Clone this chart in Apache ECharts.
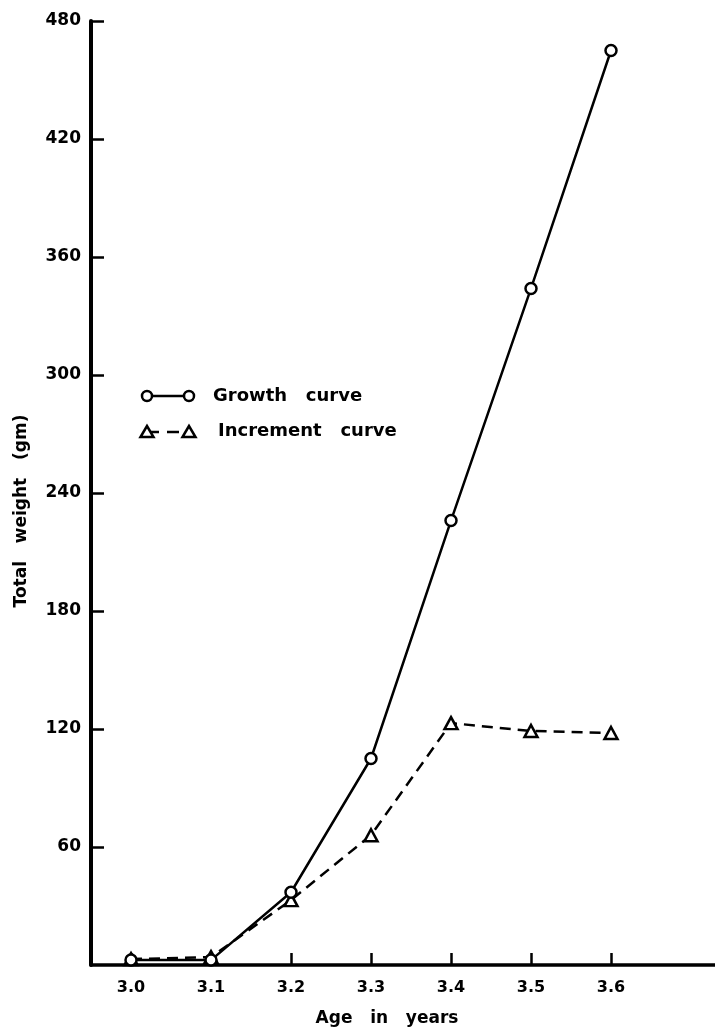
<!DOCTYPE html>
<html><head><meta charset="utf-8">
<script src="https://cdn.jsdelivr.net/npm/echarts@6/dist/echarts.min.js"></script>
<style>html,body{margin:0;padding:0;background:#fff}#c{width:715px;height:1032px}</style>
</head><body><div id="c"></div>
<script>
const ages = [3.0, 3.1, 3.2, 3.3, 3.4, 3.5, 3.6];
const growth = [2.5, 2.5, 37, 105, 226, 344, 465];
const increment = [3, 4, 33, 66, 123, 119, 118];
const xTicks = [3.0, 3.1, 3.2, 3.3, 3.4, 3.5, 3.6];
const yTicks = [60, 120, 180, 240, 300, 360, 420, 480];
const seriesNames = ['Growth curve', 'Increment curve'];
const xName = 'Age   in   years';
const yName = 'Total   weight   (gm)';

const font = 'DejaVu Sans';
const chart = echarts.init(document.getElementById('c'), null, {renderer: 'canvas'});
chart.setOption({
  backgroundColor: '#fff',
  animation: false,
  grid: {left: 91, top: 21, right: 0, bottom: 65, containLabel: false},
  xAxis: {
    type: 'value', min: 2.95, max: 3.73,
    name: xName, nameLocation: 'middle', nameGap: 45,
    nameTextStyle: {fontFamily: font, fontWeight: 'bold', fontSize: 17, color: '#000', padding: [0, 32, 0, 0]},
    axisLine: {lineStyle: {color: '#000', width: 3.5}},
    axisTick: {inside: true, length: 12, lineStyle: {color: '#000', width: 2.5}, customValues: xTicks},
    axisLabel: {customValues: xTicks, formatter: v => v.toFixed(1), fontFamily: font, fontWeight: 'bold', fontSize: 16, color: '#000', margin: 15},
    splitLine: {show: false}
  },
  yAxis: {
    type: 'value', min: 0, max: 480, interval: 60,
    axisLine: {lineStyle: {color: '#000', width: 4}},
    axisTick: {inside: true, length: 13, lineStyle: {color: '#000', width: 2.5}, customValues: yTicks},
    axisLabel: {customValues: yTicks, fontFamily: font, fontWeight: 'bold', fontSize: 17, color: '#000', margin: 10},
    splitLine: {show: false}
  },
  series: [
    {
      name: seriesNames[0], type: 'line',
      data: ages.map((a, i) => [a, growth[i]]),
      symbol: 'circle', symbolSize: 11,
      lineStyle: {color: '#000', width: 2.5},
      itemStyle: {color: '#fff', borderColor: '#000', borderWidth: 2.5},
      z: 3
    },
    {
      name: seriesNames[1], type: 'line',
      data: ages.map((a, i) => [a, increment[i]]),
      symbol: 'triangle', symbolSize: [13, 12],
      lineStyle: {color: '#000', width: 2.5, type: [11, 7]},
      itemStyle: {color: '#fff', borderColor: '#000', borderWidth: 2.5},
      z: 2
    }
  ],
  graphic: [
    {type: 'text', x: 22, y: 511, rotation: Math.PI / 2,
     style: {text: yName, font: 'bold 17px "DejaVu Sans"', fill: '#000', align: 'center', verticalAlign: 'middle'}},
    {type: 'line', shape: {x1: 147, y1: 396, x2: 189, y2: 396}, style: {stroke: '#000', lineWidth: 2.5}},
    {type: 'circle', shape: {cx: 147, cy: 396, r: 5}, style: {fill: '#fff', stroke: '#000', lineWidth: 2.5}},
    {type: 'circle', shape: {cx: 189, cy: 396, r: 5}, style: {fill: '#fff', stroke: '#000', lineWidth: 2.5}},
    {type: 'text', x: 213, y: 396, style: {text: seriesNames[0].replace(' ', '   '), font: 'bold 18px "DejaVu Sans"', fill: '#000', verticalAlign: 'middle'}},
    {type: 'line', shape: {x1: 147, y1: 432, x2: 189, y2: 432}, style: {stroke: '#000', lineWidth: 2.5, lineDash: [12, 8]}},
    {type: 'polygon', shape: {points: [[147, 426], [140.5, 437], [153.5, 437]]}, style: {fill: '#fff', stroke: '#000', lineWidth: 2.5}},
    {type: 'polygon', shape: {points: [[189, 426], [182.5, 437], [195.5, 437]]}, style: {fill: '#fff', stroke: '#000', lineWidth: 2.5}},
    {type: 'text', x: 218, y: 431, style: {text: seriesNames[1].replace(' ', '   '), font: 'bold 18px "DejaVu Sans"', fill: '#000', verticalAlign: 'middle'}}
  ]
});
</script></body></html>
